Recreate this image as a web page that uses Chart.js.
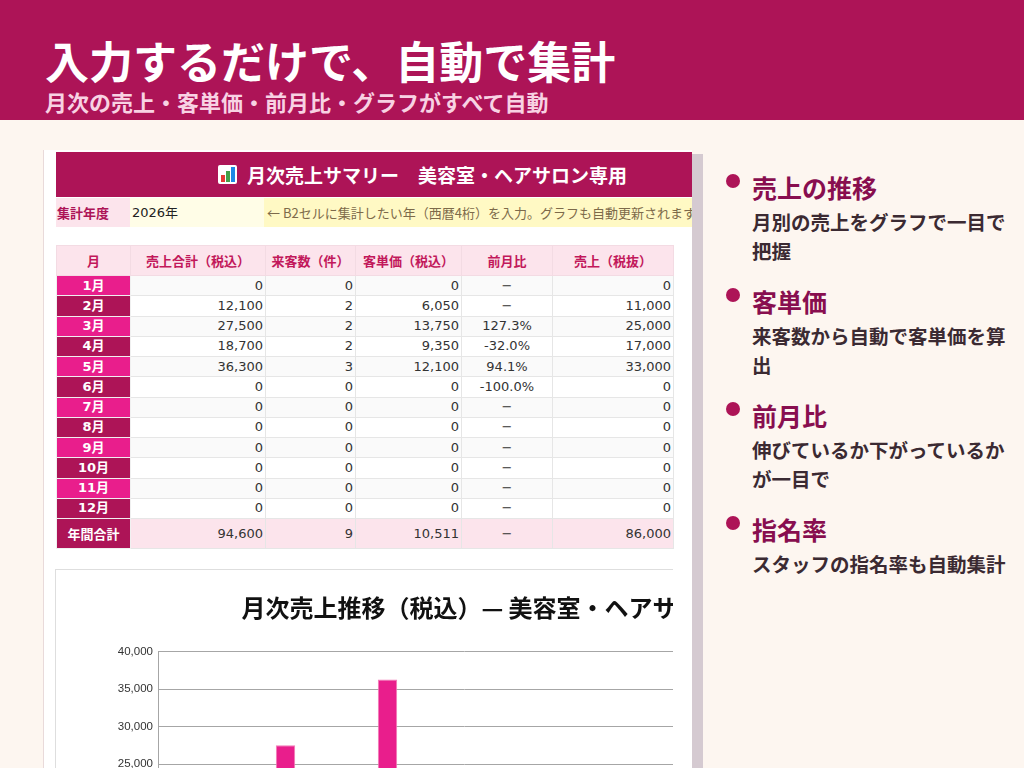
<!DOCTYPE html>
<html lang="ja">
<head>
<meta charset="utf-8">
<title>月次売上サマリー</title>
<script src="https://cdn.jsdelivr.net/npm/chart.js@4.4.1/dist/chart.umd.min.js"></script>
<style>
  html, body { margin: 0; padding: 0; }
  body {
    width: 1024px; height: 768px; overflow: hidden; position: relative;
    background: #fdf6f0;
    font-family: "Noto Sans CJK JP", "Noto Sans", sans-serif;
  }
  .band { position: absolute; left: 0; top: 0; width: 1024px; height: 120px; background: #ad1457; }
  .band h1 {
    position: absolute; left: 45px; top: 38px; margin: 0;
    font-size: 44px; line-height: 44px; font-weight: 700; color: #fff; white-space: nowrap;
  }
  .band p {
    position: absolute; left: 45px; top: 90px; margin: 0;
    font-size: 22px; line-height: 22px; font-weight: 700; color: #f8d2e3; white-space: nowrap;
  }
  .shot {
    position: absolute; left: 43px; top: 150px; width: 648px; height: 640px;
    background: #fff; border-left: 1px solid #e9dada; overflow: hidden;
  }
  .strip { position: absolute; left: 691px; top: 154px; width: 12px; height: 640px; background: #d5cad1; }
  .sheet-title {
    position: absolute; left: 12px; top: 2px; width: 636px; height: 45px; background: #ad1457;
  }
  .sheet-title span {
    position: absolute; left: 191px; top: 12px; font-size: 19px; line-height: 21px;
    font-weight: 700; color: #fff; white-space: nowrap;
  }
  .icon {
    position: absolute; left: 162px; top: 13px; width: 19px; height: 19px; background: #fff;
    border-radius: 2px;
  }
  .icon i { position: absolute; bottom: 2px; width: 4px; display: block; }
  .yearrow { position: absolute; left: 12px; top: 48px; height: 29px; width: 636px; font-size: 13px; }
  .yearrow div { position: absolute; top: 0; height: 29px; line-height: 29px; white-space: nowrap; overflow: hidden; }
  .yr-label { left: 0; width: 74px; background: #fce4ec; color: #ad1457; font-weight: 700; padding-left: 1px; }
  .yr-value { left: 74px; width: 132px; background: #fffde7; color: #222; padding-left: 2px; font-family: "DejaVu Sans", "Noto Sans CJK JP", sans-serif; }
  .yr-note { left: 208px; width: 426px; background: #fff9c4; color: #7d6a4a; font-size: 13px; padding-left: 3px; }
  table.data {
    position: absolute; left: 12px; top: 95px; width: 617px;
    border-collapse: collapse; table-layout: fixed;
    font-family: "DejaVu Sans", "Noto Sans CJK JP", sans-serif; font-size: 13px; color: #333;
  }
  table.data th {
    height: 29px; background: #fce4ec; color: #c2185b; font-weight: 700;
    font-family: "Noto Sans CJK JP", sans-serif; border: 1px solid #f3dbe3; padding: 0;
  }
  table.data td { height: 19.25px; padding: 0 2px 0 0; text-align: right; border: 1px solid #e6e6e6; line-height: 18px; }
  table.data td.m { text-align: center; color: #fff; font-weight: 700; padding: 0; border-color: #f0f0f0; }
  table.data td.c { text-align: center; padding: 0; }
  table.data tr.odd td { background: #fafafa; }
  table.data tr.odd td.m { background: #e91e8c; }
  table.data tr.even td { background: #fff; }
  table.data tr.even td.m { background: #ad1457; }
  table.data tr.total td { height: 29px; background: #fce4ec; }
  table.data tr.total td.m { background: #ad1457; font-family: "Noto Sans CJK JP", sans-serif; }
  .chartbox {
    position: absolute; left: 11px; top: 419px; width: 617px; height: 260px;
    border-top: 1px solid #dedede; border-left: 1px solid #dedede; overflow: hidden; background: #fff;
  }
  .chartbox canvas { position: absolute; left: 0; top: 0; }
  .points { position: absolute; left: 752px; top: 0; width: 262px; }
  .pt { position: absolute; left: 0; width: 262px; }
  .pt .dot { position: absolute; left: -26px; top: 3px; width: 14px; height: 14px; border-radius: 50%; background: #ad1457; }
  .pt h2 { margin: 0; font-size: 25px; line-height: 32px; font-weight: 700; color: #880e4f; white-space: nowrap; }
  .pt p { margin: 4px 0 0 0; font-size: 19.5px; line-height: 29px; font-weight: 700; color: #3b2a32; }
</style>
</head>
<body>
<div class="band">
  <h1>入力するだけで、自動で集計</h1>
  <p>月次の売上・客単価・前月比・グラフがすべて自動</p>
</div>

<div class="strip"></div>
<div class="shot">
  <div class="sheet-title">
    <div class="icon">
      <i style="left:3px;height:7px;background:#e53935"></i>
      <i style="left:8px;height:11px;background:#43a047"></i>
      <i style="left:13px;height:15px;background:#1e88e5"></i>
    </div>
    <span>月次売上サマリー　美容室・ヘアサロン専用</span>
  </div>
  <div class="yearrow">
    <div class="yr-label">集計年度</div>
    <div class="yr-value">2026年</div>
    <div class="yr-note">← B2セルに集計したい年（西暦4桁）を入力。グラフも自動更新されます。</div>
  </div>
  <table class="data" id="dataTable">
    <colgroup>
      <col style="width:74px"><col style="width:135px"><col style="width:90px">
      <col style="width:106px"><col style="width:91px"><col style="width:121px">
    </colgroup>
    <thead></thead>
    <tbody></tbody>
  </table>
  <div class="chartbox">
    <canvas id="salesChart" width="902" height="411"></canvas>
  </div>
</div>

<div class="points" id="points"></div>

<script>
// 月別データ（2026年）
const months = ['1月', '2月', '3月', '4月', '5月', '6月', '7月', '8月', '9月', '10月', '11月', '12月'];
const salesTaxIn = [0, 12100, 27500, 18700, 36300, 0, 0, 0, 0, 0, 0, 0];
const visitors = [0, 2, 2, 2, 3, 0, 0, 0, 0, 0, 0, 0];
const unitPrice = [0, 6050, 13750, 9350, 12100, 0, 0, 0, 0, 0, 0, 0];
const momRatio = ['−', '−', '127.3%', '-32.0%', '94.1%', '-100.0%', '−', '−', '−', '−', '−', '−'];
const salesTaxEx = [0, 11000, 25000, 17000, 33000, 0, 0, 0, 0, 0, 0, 0];

const headers = ['月', '売上合計（税込）', '来客数（件）', '客単価（税込）', '前月比', '売上（税抜）'];
const totalRow = ['年間合計', 94600, 9, 10511, '−', 86000];

const yMax = 40000;
const yStep = 5000;

const chartTitle = '月次売上推移（税込）— 美容室・ヘアサロン専用';

const points = [
  { head: '売上の推移', text: '月別の売上をグラフで一目で把握' },
  { head: '客単価', text: '来客数から自動で客単価を算出' },
  { head: '前月比', text: '伸びているか下がっているかが一目で' },
  { head: '指名率', text: 'スタッフの指名率も自動集計' }
];

const fmt = v => typeof v === 'number' ? v.toLocaleString('en-US') : v;

// table
const thead = document.querySelector('#dataTable thead');
thead.innerHTML = '<tr>' + headers.map(h => '<th>' + h + '</th>').join('') + '</tr>';
const tbody = document.querySelector('#dataTable tbody');
let rows = '';
months.forEach((m, i) => {
  rows += '<tr class="' + (i % 2 === 0 ? 'odd' : 'even') + '">' +
    '<td class="m">' + m + '</td>' +
    '<td>' + fmt(salesTaxIn[i]) + '</td>' +
    '<td>' + fmt(visitors[i]) + '</td>' +
    '<td>' + fmt(unitPrice[i]) + '</td>' +
    '<td class="c">' + momRatio[i] + '</td>' +
    '<td>' + fmt(salesTaxEx[i]) + '</td></tr>';
});
rows += '<tr class="total"><td class="m">' + totalRow[0] + '</td>' +
  totalRow.slice(1).map((v, k) => '<td' + (k === 3 ? ' class="c"' : '') + '>' + fmt(v) + '</td>').join('') + '</tr>';
tbody.innerHTML = rows;

// right side points
const box = document.getElementById('points');
points.forEach((p, i) => {
  const d = document.createElement('div');
  d.className = 'pt';
  d.style.top = (171 + i * 114) + 'px';
  d.innerHTML = '<span class="dot"></span><h2>' + p.head + '</h2><p>' + p.text + '</p>';
  box.appendChild(d);
});

// chart
const ctx = document.getElementById('salesChart').getContext('2d');
new Chart(ctx, {
  type: 'bar',
  data: {
    labels: months,
    datasets: [{
      label: '売上合計（税込）',
      data: salesTaxIn,
      backgroundColor: '#e91e8c',
      borderColor: '#f27bb6',
      borderWidth: 1,
      barPercentage: 0.38,
      categoryPercentage: 1
    }]
  },
  options: {
    responsive: false,
    animation: false,
    layout: { padding: 0 },
    plugins: {
      legend: { display: false },
      tooltip: { enabled: false },
      title: {
        display: true,
        text: chartTitle,
        color: '#111',
        font: { family: '"Noto Sans CJK JP"', size: 24, weight: 'bold' },
        padding: { top: 23, bottom: 30 }
      }
    },
    scales: {
      x: {
        grid: { display: false },
        border: { display: false },
        ticks: { color: '#333', font: { family: '"Liberation Sans"', size: 11 } },
        afterFit: s => { s.height = 30; }
      },
      y: {
        min: 0,
        max: yMax,
        ticks: {
          stepSize: yStep,
          padding: 5,
          color: '#333',
          font: { family: '"Liberation Sans"', size: 11.5 },
          callback: v => v.toLocaleString('en-US')
        },
        grid: { color: '#a6a6a6', drawTicks: false },
        border: { color: '#a6a6a6' },
        afterFit: s => { s.width = 102; }
      },
      // spacer so the plot ends where the sheet chart does
      y2: {
        position: 'right',
        ticks: { display: false },
        grid: { display: false },
        border: { display: false },
        afterFit: s => { s.width = 188; }
      }
    }
  }
});
</script>
</body>
</html>
